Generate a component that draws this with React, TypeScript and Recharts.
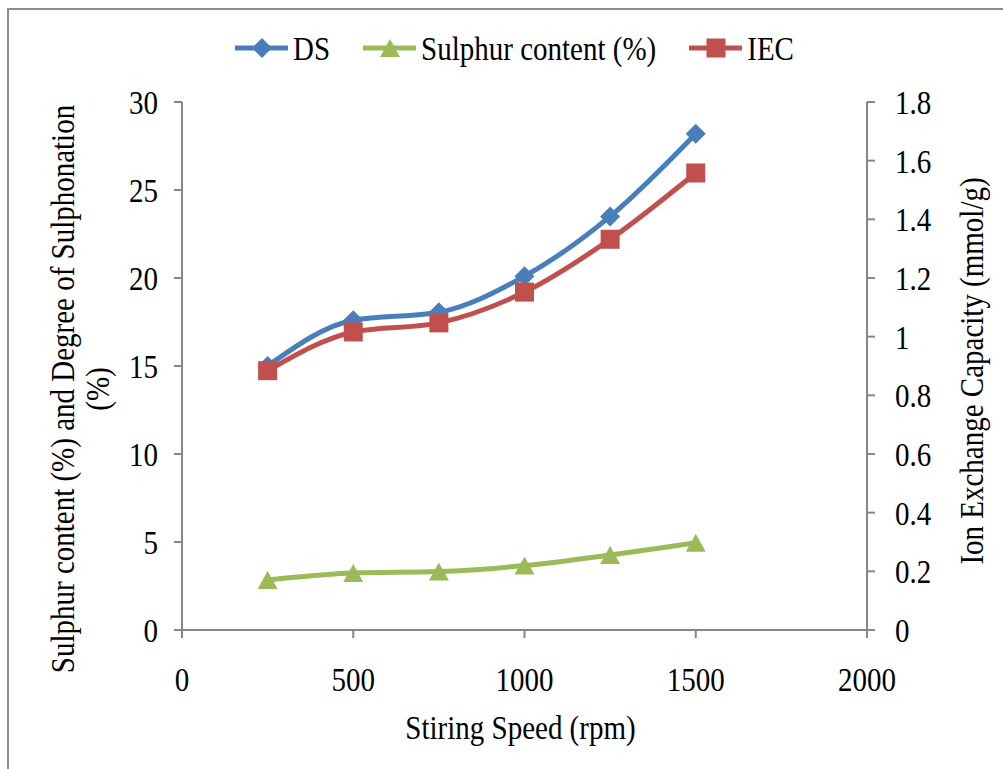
import React from "react";
import { LineChart, Line, XAxis, YAxis, Label } from "recharts";

const SPEED = [250, 500, 750, 1000, 1250, 1500];
const DS = [15.0, 17.6, 18.05, 20.1, 23.5, 28.2];
const SULPHUR = [2.84, 3.24, 3.32, 3.66, 4.26, 4.96];
const IEC = [0.884, 1.016, 1.047, 1.152, 1.332, 1.558];

const X_TICKS = [0, 500, 1000, 1500, 2000];
const LEFT_TICKS = [0, 5, 10, 15, 20, 25, 30];
const RIGHT_TICKS = [0, 0.2, 0.4, 0.6, 0.8, 1, 1.2, 1.4, 1.6, 1.8];

const BLUE = "#4a7ebb";
const GREEN = "#9bbb59";
const RED = "#c0504d";
const AXIS = "#868686";
const FONT = "'Liberation Serif', 'Times New Roman', serif";
const STRETCH = 1.17;

const rows = SPEED.map((s, i) => ({ speed: s, ds: DS[i], sulphur: SULPHUR[i], iec: IEC[i] }));

const tickStyle = { fill: "#000", fontSize: 29 };

// serif face everywhere; upright labels get a slightly taller glyph
const css = `
.fig svg text { font-family: ${FONT}; font-size: 29px; }
.fig .recharts-cartesian-axis-tick-value, .fig .tall {
  transform-box: fill-box; transform-origin: center; transform: scaleY(${STRETCH});
}
`;

function Diamond({ cx, cy, fill, r = 10 }: any) {
  if (cx == null || cy == null) return null;
  return <path d={`M${cx},${cy - r}L${cx + r},${cy}L${cx},${cy + r}L${cx - r},${cy}Z`} fill={fill} />;
}

function Triangle({ cx, cy, fill, r = 10 }: any) {
  if (cx == null || cy == null) return null;
  return <path d={`M${cx},${cy - r + 1}L${cx + r},${cy + r - 1}L${cx - r},${cy + r - 1}Z`} fill={fill} />;
}

function Square({ cx, cy, fill, r = 9.5 }: any) {
  if (cx == null || cy == null) return null;
  return <rect x={cx - r} y={cy - r} width={r * 2} height={r * 2} fill={fill} />;
}

const LEGEND = [
  { name: "DS", color: BLUE, Marker: Diamond },
  { name: "Sulphur content (%)", color: GREEN, Marker: Triangle },
  { name: "IEC", color: RED, Marker: Square },
];

// rotated text, glyph height stretched along the rotated frame
function VerticalText({ x, y, children }: any) {
  return (
    <text
      x={0}
      y={0}
      dy="0.35em"
      textAnchor="middle"
      transform={`translate(${x} ${y}) rotate(-90) scale(1 ${STRETCH})`}
      fill="#000"
    >
      {children}
    </text>
  );
}

function LeftTitle({ viewBox }: any) {
  const cy = viewBox.y + viewBox.height / 2 + 23;
  return (
    <g>
      <VerticalText x={62} y={cy}>Sulphur content (%) and Degree of Sulphonation</VerticalText>
      <VerticalText x={97} y={cy}>(%)</VerticalText>
    </g>
  );
}

function RightTitle({ viewBox }: any) {
  return (
    <VerticalText x={971} y={viewBox.y + viewBox.height / 2 + 5}>
      Ion Exchange Capacity (mmol/g)
    </VerticalText>
  );
}

function BottomTitle({ viewBox }: any) {
  return (
    <text className="tall" x={viewBox.x + viewBox.width / 2 - 4} y={viewBox.y + 107} textAnchor="middle" fill="#000">
      Stiring Speed (rpm)
    </text>
  );
}

export default function App() {
  return (
    <div
      className="fig"
      style={{
        position: "absolute",
        left: 0,
        top: 0,
        width: 1003,
        height: 769,
        overflow: "hidden",
        background: "#fff",
        fontFamily: FONT,
      }}
    >
      <style>{css}</style>
      {/* outer frame */}
      <div
        style={{
          position: "absolute",
          left: 7,
          top: 8,
          width: 1010,
          height: 780,
          borderLeft: "2px solid #8c8c8c",
          borderTop: "2px solid #8c8c8c",
        }}
      />
      <div
        style={{
          position: "absolute",
          left: 235,
          top: 30,
          display: "flex",
          alignItems: "center",
          gap: 33,
          fontSize: 29,
          lineHeight: "36px",
        }}
      >
        {LEGEND.map(({ name, color, Marker }) => (
          <div key={name} style={{ display: "flex", alignItems: "center" }}>
            <svg width={53} height={24}>
              <line x1={0} y1={12} x2={53} y2={12} stroke={color} strokeWidth={5} />
              <Marker cx={27} cy={12} fill={color} />
            </svg>
            <span style={{ marginLeft: 5, display: "inline-block", transform: `scaleY(${STRETCH})` }}>{name}</span>
          </div>
        ))}
      </div>
      <LineChart width={1003} height={769} data={rows} margin={{ top: 102, right: 0, bottom: 0, left: 0 }}>
        <XAxis
          dataKey="speed"
          type="number"
          domain={[0, 2000]}
          ticks={X_TICKS}
          height={139}
          stroke={AXIS}
          strokeWidth={2}
          tickSize={8}
          tickMargin={31}
          tick={tickStyle}
          interval={0}
        >
          <Label content={BottomTitle} />
        </XAxis>
        <YAxis
          yAxisId="left"
          orientation="left"
          domain={[0, 30]}
          ticks={LEFT_TICKS}
          width={182}
          stroke={AXIS}
          strokeWidth={2}
          tickSize={8}
          tickMargin={16}
          tick={tickStyle}
          interval={0}
        >
          <Label content={LeftTitle} />
        </YAxis>
        <YAxis
          yAxisId="right"
          orientation="right"
          domain={[0, 1.8]}
          ticks={RIGHT_TICKS}
          width={136}
          stroke={AXIS}
          strokeWidth={2}
          tickSize={8}
          tickMargin={20}
          tick={tickStyle}
          interval={0}
          tickFormatter={(v: number) => String(+v.toFixed(1))}
        >
          <Label content={RightTitle} />
        </YAxis>
        <Line
          yAxisId="left"
          dataKey="ds"
          type="monotone"
          stroke={BLUE}
          strokeWidth={5}
          dot={(p: any) => <Diamond key={p.index} cx={p.cx} cy={p.cy} fill={BLUE} />}
          activeDot={false}
          isAnimationActive={false}
        />
        <Line
          yAxisId="right"
          dataKey="iec"
          type="monotone"
          stroke={RED}
          strokeWidth={5}
          dot={(p: any) => <Square key={p.index} cx={p.cx} cy={p.cy} fill={RED} />}
          activeDot={false}
          isAnimationActive={false}
        />
        <Line
          yAxisId="left"
          dataKey="sulphur"
          type="monotone"
          stroke={GREEN}
          strokeWidth={5}
          dot={(p: any) => <Triangle key={p.index} cx={p.cx} cy={p.cy} fill={GREEN} />}
          activeDot={false}
          isAnimationActive={false}
        />
      </LineChart>
    </div>
  );
}
